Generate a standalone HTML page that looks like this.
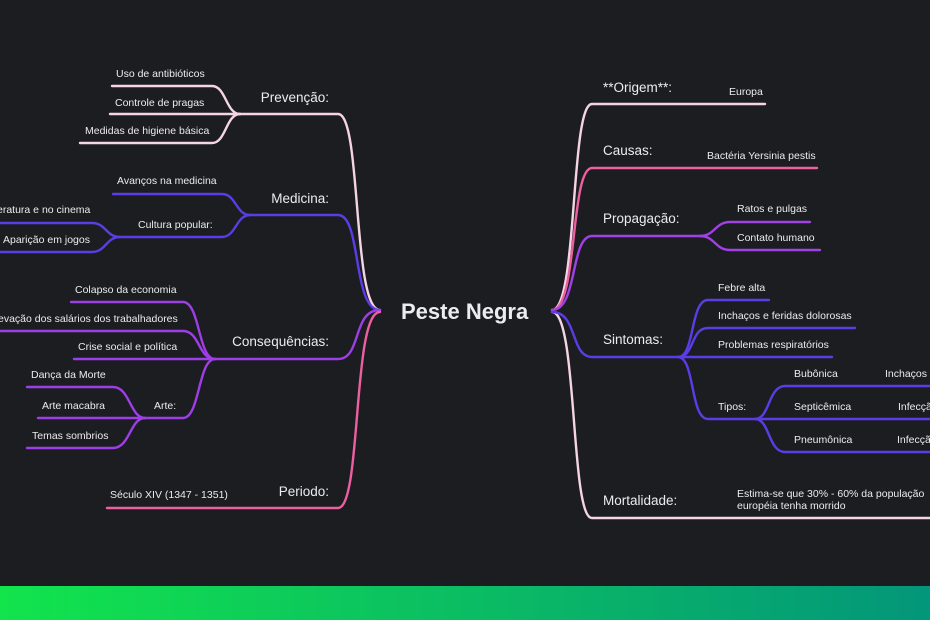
<!DOCTYPE html>
<html><head><meta charset="utf-8"><style>
html,body{margin:0;padding:0;background:#1c1d21;}
svg{display:block}
text{font-family:"Liberation Sans",sans-serif;fill:#ececef;}
.s{font-size:10.5px}
.b{font-size:13.5px}
</style></head><body>
<svg width="930" height="620" viewBox="0 0 930 620">
<rect width="930" height="620" fill="#1c1d21"/>
<defs><linearGradient id="g" x1="0" x2="1"><stop offset="0" stop-color="#12e44c"/><stop offset="1" stop-color="#03967a"/></linearGradient></defs>
<rect x="0" y="586" width="930" height="34" fill="url(#g)"/>
<g fill="none" stroke-width="2.4" stroke-linecap="round">
<g stroke="#f5d5e3">
<path d="M380,310 C352,310 362,114 338,114 L240,114"/>
<path d="M240,114 C226,114 226,86 212,86 L112,86"/>
<path d="M240,114 L110,114"/>
<path d="M240,114 C226,114 226,143 212,143 L80,143"/>
</g>
<g stroke="#5b3de6">
<path d="M380,310 C352,310 362,215 338,215 L250,215"/>
<path d="M250,215 C236,215 236,194 222,194 L113,194"/>
<path d="M250,215 C236,215 236,237 222,237 L120,237"/>
<path d="M120,237 C106,237 106,223 92,223 L0,223"/>
<path d="M120,237 C106,237 106,252 92,252 L0,252"/>
</g>
<g stroke="#9d3ee6">
<path d="M380,310 C352,310 362,359 338,359 L215,359"/>
<path d="M215,359 C198,359 200,302 183,302 L71,302"/>
<path d="M215,359 C198,359 200,331 183,331 L0,331"/>
<path d="M215,359 L74,359"/>
<path d="M215,359 C198,359 200,418 183,418 L145,418"/>
<path d="M145,418 C130,418 130,387 113,387 L27,387"/>
<path d="M145,418 L38,418"/>
<path d="M145,418 C130,418 130,448 113,448 L27,448"/>
</g>
<g stroke="#ec5fa0">
<path d="M380,312 C352,312 362,508 338,508 L107,508"/>
</g>
<g stroke="#f5d5e3">
<path d="M552,310 C578,310 570,104 592,104 L765,104"/>
<path d="M552,312 C578,312 570,518 592,518 L932,518"/>
</g>
<g stroke="#ec5fa0">
<path d="M552,310 C578,310 570,168 592,168 L817,168"/>
</g>
<g stroke="#a040e6">
<path d="M552,310 C578,310 570,236 592,236 L703,236"/>
<path d="M700,236 C715,236 715,222 730,222 L810,222"/>
<path d="M700,236 C715,236 715,250 730,250 L820,250"/>
</g>
<g stroke="#5b3de6">
<path d="M552,312 C578,312 570,357 592,357 L680,357"/>
<path d="M678,357 C695,357 690,300 708,300 L769,300"/>
<path d="M678,357 C695,357 690,328 708,328 L855,328"/>
<path d="M678,357 L832,357"/>
<path d="M678,357 C695,357 690,419 708,419 L757,419"/>
<path d="M755,419 C770,419 768,386 785,386 L932,386"/>
<path d="M755,419 L932,419"/>
<path d="M755,419 C770,419 768,452 785,452 L932,452"/>
</g>
</g>
<text x="401" y="319" style="font-size:22px;font-weight:bold">Peste Negra</text>
<text class="b" x="329" y="102" text-anchor="end">Prevenção:</text>
<text class="s" x="116" y="77">Uso de antibióticos</text>
<text class="s" x="115" y="106">Controle de pragas</text>
<text class="s" x="85" y="134">Medidas de higiene básica</text>
<text class="b" x="329" y="203" text-anchor="end">Medicina:</text>
<text class="s" x="117" y="184">Avanços na medicina</text>
<text class="s" x="138" y="228">Cultura popular:</text>
<text class="s" x="-3" y="213">eratura e no cinema</text>
<text class="s" x="3" y="243">Aparição em jogos</text>
<text class="b" x="329" y="346" text-anchor="end">Consequências:</text>
<text class="s" x="75" y="293">Colapso da economia</text>
<text class="s" x="-2" y="322">evação dos salários dos trabalhadores</text>
<text class="s" x="78" y="350">Crise social e política</text>
<text class="s" x="154" y="409">Arte:</text>
<text class="s" x="31" y="378">Dança da Morte</text>
<text class="s" x="42" y="409">Arte macabra</text>
<text class="s" x="32" y="439">Temas sombrios</text>
<text class="b" x="329" y="496" text-anchor="end">Periodo:</text>
<text class="s" x="110" y="498">Século XIV (1347 - 1351)</text>
<text class="b" x="603" y="92">**Origem**:</text>
<text class="s" x="729" y="95">Europa</text>
<text class="b" x="603" y="155">Causas:</text>
<text class="s" x="707" y="159">Bactéria Yersinia pestis</text>
<text class="b" x="603" y="223">Propagação:</text>
<text class="s" x="737" y="212">Ratos e pulgas</text>
<text class="s" x="737" y="241">Contato humano</text>
<text class="b" x="603" y="344">Sintomas:</text>
<text class="s" x="718" y="291">Febre alta</text>
<text class="s" x="718" y="319">Inchaços e feridas dolorosas</text>
<text class="s" x="718" y="348">Problemas respiratórios</text>
<text class="s" x="718" y="410">Tipos:</text>
<text class="s" x="794" y="377">Bubônica</text>
<text class="s" x="885" y="377">Inchaços n</text>
<text class="s" x="794" y="410">Septicêmica</text>
<text class="s" x="898" y="410">Infecçã</text>
<text class="s" x="794" y="443">Pneumônica</text>
<text class="s" x="897" y="443">Infecçã</text>
<text class="b" x="603" y="505">Mortalidade:</text>
<text class="s" x="737" y="497">Estima-se que 30% - 60% da população</text>
<text class="s" x="737" y="509">européia tenha morrido</text>
</svg>
</body></html>
